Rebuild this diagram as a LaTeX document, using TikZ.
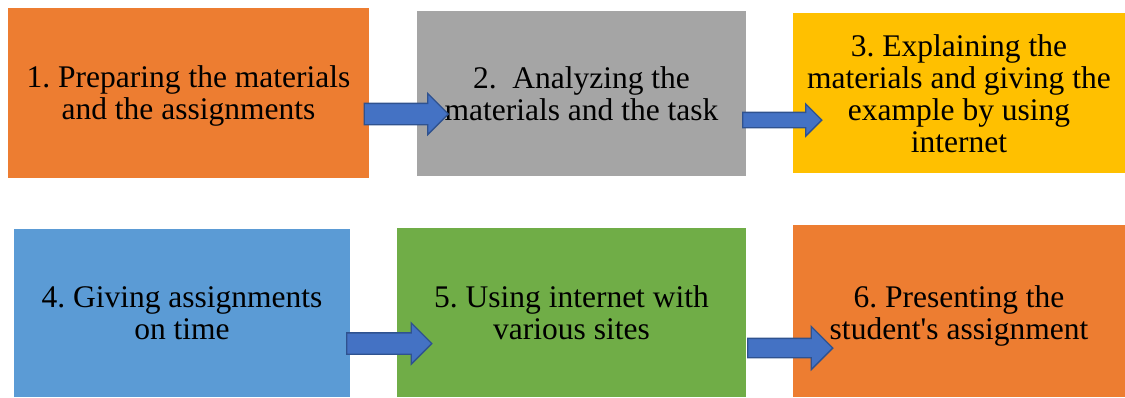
\documentclass[tikz,border=0pt]{standalone}
\usepackage{fontspec}
\setmainfont{Liberation Serif}
\usetikzlibrary{shapes.arrows}
\frenchspacing

\definecolor{stepOrange}{HTML}{ED7D31}
\definecolor{stepGray}{HTML}{A5A5A5}
\definecolor{stepGold}{HTML}{FFC000}
\definecolor{stepBlue}{HTML}{5B9BD5}
\definecolor{stepGreen}{HTML}{70AD47}
\definecolor{arrowFill}{HTML}{4472C4}
\definecolor{arrowLine}{HTML}{2F528F}

\tikzset{
    stepbox/.style={rectangle, inner sep=0pt},
    steptext/.style={align=center, inner sep=0pt,
        font=\fontsize{31.5}{32}\selectfont},
    flowarrow/.style={single arrow, fill=arrowFill, draw=arrowLine,
        line width=1.3pt, inner xsep=0pt, single arrow head extend=10pt}
}

\begin{document}
\begin{tikzpicture}[x=1pt, y=-1pt]

            \useasboundingbox (0, 0) rectangle (1125, 397);

            %first row
            \node[stepbox, fill=stepOrange, minimum width=361pt, minimum height=170pt,
                label={[steptext, yshift=-3pt]center:1. Preparing the materials\\and the assignments}] (s1) at (188.5, 93) {};
            \node[stepbox, fill=stepGray, minimum width=329pt, minimum height=165pt,
                label={[steptext]center:2.\ \ Analyzing the\\materials and the task}] (s2) at (581.5, 93.5) {};
            \node[stepbox, fill=stepGold, minimum width=332pt, minimum height=160pt,
                label={[steptext, yshift=-1pt]center:3. Explaining the\\materials and giving the\\example by using\\internet}] (s3) at (959, 93) {};

            %second row
            \node[stepbox, fill=stepBlue, minimum width=336pt, minimum height=168pt,
                label={[steptext]center:4. Giving assignments\\on time}] (s4) at (182, 313) {};
            \node[stepbox, fill=stepGreen, minimum width=349pt, minimum height=169pt,
                label={[steptext]center:5. Using internet with\\various sites}] (s5) at (571.5, 312.5) {};
            \node[stepbox, fill=stepOrange, minimum width=332pt, minimum height=172pt,
                label={[steptext, yshift=-5pt]center:6. Presenting the\\student\textquotesingle s assignment}] (s6) at (959, 311) {};

            %arrows
            \node[flowarrow, inner ysep=10pt, minimum height=84pt] (a12) at (401, 114) {};
            \node[flowarrow, inner ysep=7pt, single arrow head extend=8.5pt, minimum height=79pt] (a23) at (778.5, 120) {};
            \node[flowarrow, inner ysep=10pt, minimum height=85pt] (a45) at (384, 343.5) {};
            \node[flowarrow, inner ysep=9pt, single arrow head extend=12pt, minimum height=85pt] (a56) at (785.5, 348) {};

\end{tikzpicture}
\end{document}
